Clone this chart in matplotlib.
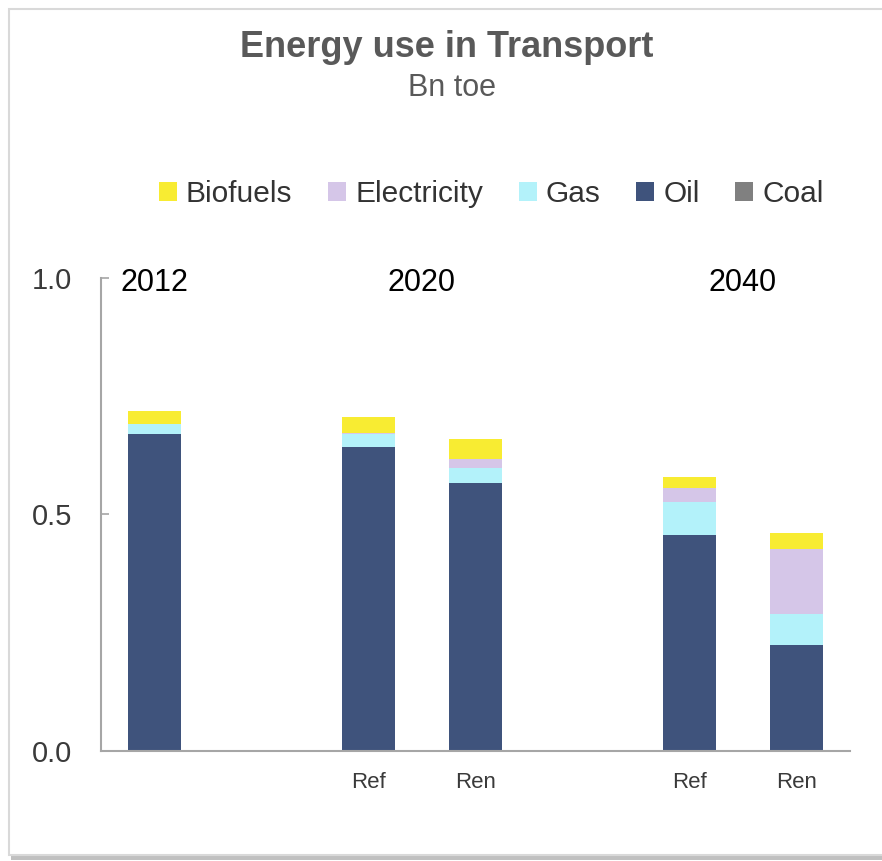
import numpy as np
import matplotlib
matplotlib.use("Agg")
import matplotlib.pyplot as plt
from matplotlib.patches import Patch, Rectangle

plt.rcParams['font.family'] = ['Liberation Sans', 'DejaVu Sans']

# data (Bn toe)
positions = [0, 2, 3, 5, 6]
bar_labels = ["", "Ref", "Ren", "Ref", "Ren"]
years = ["2012", "2020", "2040"]
year_pos = [0, 2.5, 5.5]

coal = [0.0, 0.0, 0.0, 0.0, 0.0]
oil = [0.670, 0.643, 0.566, 0.457, 0.225]
gas = [0.021, 0.027, 0.032, 0.070, 0.065]
electricity = [0.0, 0.002, 0.019, 0.028, 0.138]
biofuels = [0.028, 0.033, 0.043, 0.025, 0.032]

series = ["Coal", "Oil", "Gas", "Electricity", "Biofuels"]
values = [coal, oil, gas, electricity, biofuels]
colors = {"Coal": "#808080", "Oil": "#3F537C", "Gas": "#B3F2FA",
          "Electricity": "#D5C6E8", "Biofuels": "#F8EC32"}

fig = plt.figure(figsize=(8.82, 8.61), dpi=100)

# outer frame with shadow
fig.patches.append(Rectangle((11 / 882, 1 - 860 / 861), 1.0, 5 / 861,
                             transform=fig.transFigure, facecolor="#c0c0c0",
                             edgecolor="none", zorder=-2))
fig.patches.append(Rectangle((9 / 882, 1 - 855 / 861), 1.0, 846 / 861,
                             transform=fig.transFigure, facecolor="white",
                             edgecolor="#d9d9d9", lw=1.5, zorder=-1))

ax = fig.add_axes([0.1145, 0.1278, 0.8492, 0.5494])
ax.set_facecolor("none")
ax.set_zorder(1)

bottom = np.zeros(len(positions))
for name, vals in zip(series, values):
    ax.bar(positions, vals, width=0.5, bottom=bottom, color=colors[name],
           edgecolor="none", zorder=2)
    bottom += np.array(vals)

ax.set_xlim(-0.5, 6.5)
ax.set_ylim(0, 1.0)
ax.set_yticks([0, 0.5, 1.0])
ax.set_yticklabels(["0.0", "0.5", "1.0"])
ax.set_xticks(positions)
ax.set_xticklabels(bar_labels)

for s in ["top", "right"]:
    ax.spines[s].set_visible(False)
for s in ["left", "bottom"]:
    ax.spines[s].set_color("#a6a6a6")
    ax.spines[s].set_linewidth(1.5)

ax.tick_params(axis="y", direction="in", length=6, width=1.2, color="#a6a6a6",
               labelsize=21, labelcolor="#3a3a3a", pad=21)
ax.tick_params(axis="x", length=0, labelsize=16, labelcolor="#3a3a3a", pad=15)

for yr, xp in zip(years, year_pos):
    ax.text(xp, 0.99, yr, ha="center", va="center", fontsize=22, color="black")

fig.text(0.507, 0.945, "Energy use in Transport", ha="center", va="center",
         fontsize=26, fontweight="bold", color="#595959")
fig.text(0.512, 0.898, "Bn toe", ha="center", va="center",
         fontsize=22, color="#595959")

handles = [Patch(facecolor=colors[n], edgecolor="none") for n in series[::-1]]
leg = fig.legend(handles, series[::-1], loc="center", bbox_to_anchor=(0.557, 0.775),
                 ncol=5, frameon=False, fontsize=21.5, handlelength=0.6,
                 handleheight=0.6, handletextpad=0.3, columnspacing=1.2)
for t in leg.get_texts():
    t.set_color("#333333")

fig.savefig("out.png", dpi=100)
